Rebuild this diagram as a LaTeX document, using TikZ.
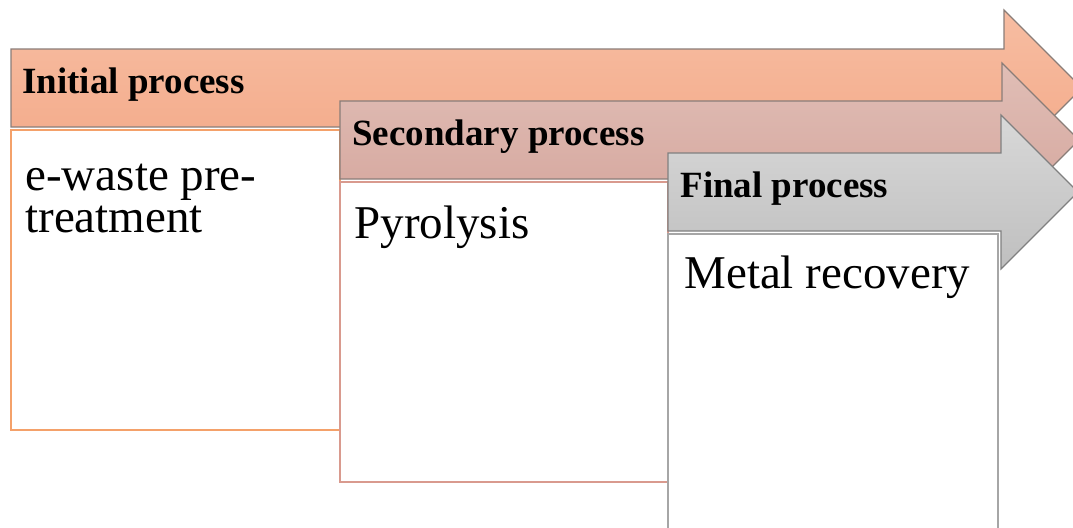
\documentclass[tikz,border=0pt]{standalone}
\usepackage{fontspec}
\setmainfont{Liberation Serif}
\definecolor{aoneT}{HTML}{F7BDA2}
\definecolor{aoneB}{HTML}{F3A988}
\definecolor{atwoT}{HTML}{E0BEB6}
\definecolor{atwoB}{HTML}{D5A59C}
\definecolor{athrT}{HTML}{D8D8D8}
\definecolor{athrB}{HTML}{BFBFBF}
\definecolor{abrd}{HTML}{8A7D78}
\definecolor{bone}{HTML}{F4A16A}
\definecolor{btwo}{HTML}{D99A8E}
\definecolor{bthr}{HTML}{A6A6A6}
\tikzset{
  x=0.5pt, y=-0.5pt,
  arrowshape/.style={draw=abrd, line width=0.6pt, line join=miter},
  boxshape/.style={fill=white, line width=0.8pt},
  headtxt/.style={anchor=base west, inner sep=0pt, font=\fontsize{18.5}{21}\selectfont\bfseries},
  bodytxt/.style={anchor=base west, inner sep=0pt, font=\fontsize{23.5}{21}\selectfont, align=left},
}
\begin{document}
\begin{tikzpicture}
\useasboundingbox (0,0) rectangle (1073,527);
\clip (0,0) rectangle (1073,527);
% arrow 1
\path[arrowshape, top color=aoneT, bottom color=aoneB]
  (11,49) -- (1004,49) -- (1004,10) -- (1082,88) -- (1004,166) -- (1004,127) -- (11,127) -- cycle;
\draw[boxshape, draw=bone] (11,130) rectangle (340,430);
\node[headtxt] (h1) at (22,93) {Initial process};
\node[bodytxt] (b1) at (25,232) {e-waste pre-\\treatment};
% arrow 2
\path[arrowshape, top color=atwoT, bottom color=atwoB]
  (340,101) -- (1002,101) -- (1002,63) -- (1079,140) -- (1002,217) -- (1002,179) -- (340,179) -- cycle;
\draw[boxshape, draw=btwo] (340,182) rectangle (668,482);
\node[headtxt] (h2) at (352,145) {Secondary process};
\node[bodytxt] (b2) at (354,238) {Pyrolysis};
% arrow 3
\path[arrowshape, draw=gray, top color=athrT, bottom color=athrB]
  (668,153) -- (1001,153) -- (1001,115) -- (1078,192) -- (1001,269) -- (1001,231) -- (668,231) -- cycle;
\draw[boxshape, draw=bthr] (668,234) rectangle (998,540);
\node[headtxt] (h3) at (680,197) {Final process};
\node[bodytxt] (b3) at (684,288) {Metal recovery};
\end{tikzpicture}
\end{document}
